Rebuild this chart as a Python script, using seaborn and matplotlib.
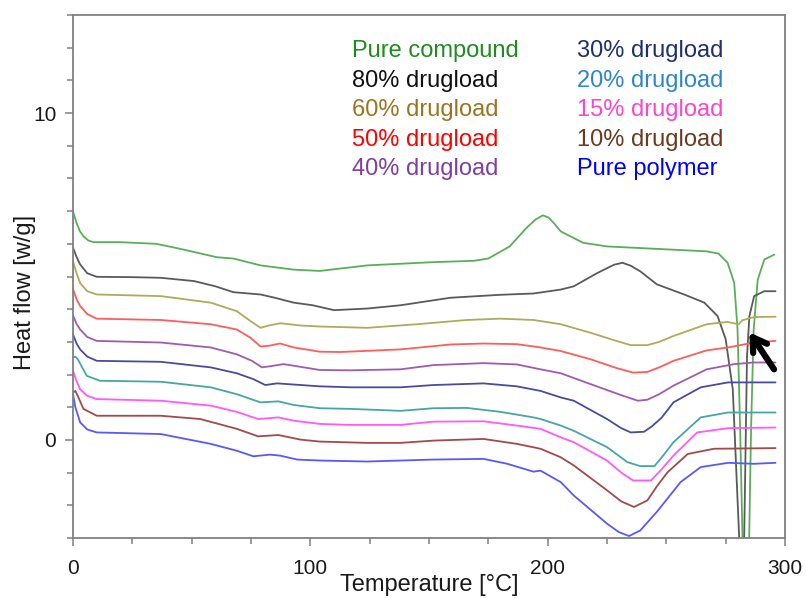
import numpy as np
import pandas as pd
import matplotlib
matplotlib.use("Agg")
import matplotlib.pyplot as plt
from matplotlib.ticker import MultipleLocator
import seaborn as sns

# DSC thermograms: temperature [°C] and heat flow [W/g] for each sample
labels = ["Pure compound", "80% drugload", "60% drugload", "50% drugload", "40% drugload",
          "30% drugload", "20% drugload", "15% drugload", "10% drugload", "Pure polymer"]

t_pure = [0, 1.5, 2.8, 4.4, 6.5, 8.6, 20, 35, 43.7, 60.6, 67.6, 79, 93, 104, 124, 152, 169, 175,
          184, 191, 195, 198, 200.5, 203, 205.5, 215, 225, 239, 267, 272, 275.8, 278.6, 280,
          281.1, 282.1, 283.5, 284.9, 285.7, 286.8, 288.5, 291.3, 295.5]
h_pure = [6.99, 6.64, 6.4, 6.23, 6.1, 6.05, 6.05, 6.0, 5.87, 5.59, 5.55, 5.34, 5.21, 5.17, 5.34,
          5.44, 5.48, 5.55, 5.92, 6.48, 6.75, 6.87, 6.80, 6.6, 6.38, 6.03, 5.92, 5.87, 5.77, 5.70,
          5.42, 4.81, 3.38, 0.33, -3.0, -8.0, -3.0, 0.33, 3.38, 4.9, 5.52, 5.67]

t_80 = [0, 1.5, 3, 6, 10, 25, 37, 51, 60, 67.6, 79, 85, 93, 101, 110, 124, 138, 159, 180, 194,
        205.5, 211, 221, 228, 231.5, 235, 239, 246, 257.5, 266, 271.6, 275, 278, 280.7, 281.8,
        282.8, 284, 285, 287, 291.3, 296]
h_80 = [5.88, 5.6, 5.37, 5.1, 4.99, 4.98, 4.96, 4.86, 4.7, 4.52, 4.45, 4.35, 4.2, 4.12, 3.97, 4.02,
        4.12, 4.35, 4.44, 4.48, 4.6, 4.7, 5.11, 5.36, 5.42, 5.33, 5.16, 4.76, 4.45, 4.2, 3.79, 3.08,
        1.55, -3.0, -6.0, -3.0, 2.57, 3.79, 4.4, 4.55, 4.55]

t_60 = [0, 1.5, 3, 6, 10, 37, 58, 69, 74.7, 79, 82.4, 87.3, 96, 104, 124, 145, 166, 180, 194,
        205.5, 218, 228, 235, 242, 247, 253, 267, 275.8, 279, 280.5, 282, 287, 296]
h_60 = [5.47, 5.1, 4.8, 4.55, 4.45, 4.4, 4.2, 3.94, 3.64, 3.43, 3.5, 3.57, 3.5, 3.47, 3.43, 3.54,
        3.67, 3.71, 3.67, 3.54, 3.28, 3.05, 2.9, 2.9, 3.0, 3.18, 3.54, 3.61, 3.56, 3.54, 3.66, 3.76,
        3.77]

t_50 = [0, 1.5, 3, 6, 10, 37, 58, 69, 74.7, 79, 82.4, 87.3, 93, 104, 112.7, 138, 159, 173, 187,
        197, 205.5, 218, 229, 236, 242, 247, 253, 267, 276, 287, 296]
h_50 = [4.62, 4.3, 4.1, 3.85, 3.71, 3.67, 3.54, 3.38, 3.13, 2.86, 2.88, 2.95, 2.83, 2.7, 2.69, 2.77,
        2.92, 2.95, 2.93, 2.83, 2.72, 2.47, 2.2, 2.06, 2.08, 2.22, 2.42, 2.74, 2.83, 2.98, 3.03]

t_40 = [0, 1.5, 3, 6, 10, 37, 58, 69, 75.4, 79.6, 84.5, 88.7, 104, 117, 138, 152, 173, 187, 197,
        205.5, 218, 231, 238, 242, 247, 253, 267, 278.6, 287, 296]
h_40 = [3.81, 3.55, 3.38, 3.15, 3.03, 2.98, 2.83, 2.62, 2.42, 2.22, 2.27, 2.32, 2.14, 2.13, 2.16,
        2.29, 2.35, 2.31, 2.16, 2.04, 1.71, 1.37, 1.2, 1.23, 1.4, 1.66, 2.16, 2.32, 2.37, 2.37]

t_30 = [0, 1.5, 3, 6, 10, 37, 58, 69, 76, 81, 86, 104, 117, 138, 152, 173, 187, 197, 205.5, 211,
        225, 231, 235, 240.6, 244, 248, 253, 264.5, 276, 296]
h_30 = [3.23, 2.95, 2.77, 2.55, 2.42, 2.39, 2.22, 2.04, 1.86, 1.68, 1.73, 1.64, 1.61, 1.61, 1.68,
        1.73, 1.64, 1.5, 1.3, 1.2, 0.64, 0.36, 0.23, 0.25, 0.42, 0.68, 1.15, 1.61, 1.76, 1.76]

t_20 = [0, 1, 2, 5.8, 11.4, 37, 58, 69, 79, 86.6, 93, 104, 117, 138, 152, 166, 180, 194, 197,
        205.5, 211, 225, 233.6, 239, 245, 249, 253, 264.5, 276, 296]
h_20 = [2.52, 2.55, 2.47, 1.96, 1.81, 1.78, 1.61, 1.4, 1.15, 1.18, 1.07, 0.97, 0.95, 0.89, 0.97,
        0.98, 0.86, 0.69, 0.64, 0.44, 0.28, -0.22, -0.68, -0.8, -0.8, -0.45, -0.07, 0.69, 0.84,
        0.84]

t_15 = [0, 1.5, 3, 6, 10, 37, 58, 69, 78, 86.6, 93, 104, 117, 138, 152, 173, 187, 197, 205.5, 211,
        225, 231, 236, 243.5, 248, 253, 263, 276, 296]
h_15 = [2.11, 1.8, 1.55, 1.35, 1.25, 1.2, 1.05, 0.86, 0.64, 0.69, 0.59, 0.49, 0.46, 0.46, 0.56,
        0.57, 0.44, 0.34, 0.08, -0.07, -0.63, -1.0, -1.24, -1.24, -0.9, -0.48, 0.23, 0.36, 0.38]

t_10 = [0, 1, 2, 4.4, 10, 37, 53.6, 69, 78, 86.6, 95.8, 104, 124, 138, 152, 173, 187, 197, 205.5,
        211, 225, 231, 236.4, 242, 246, 250.5, 259, 270, 296]
h_10 = [1.45, 1.5, 1.35, 0.95, 0.74, 0.74, 0.64, 0.34, 0.11, 0.15, 0.01, -0.05, -0.09, -0.09, -0.02,
        0.03, -0.12, -0.27, -0.53, -0.78, -1.54, -1.88, -2.05, -1.85, -1.42, -0.99, -0.43, -0.27,
        -0.25]

t_poly = [0, 1, 3, 6, 10, 37, 58, 69, 76, 83, 87.3, 94.4, 104, 124, 138, 152, 173, 183, 194, 197,
          205.5, 211, 225, 230, 234.3, 239, 246, 256, 264.5, 276, 287, 296]
h_poly = [1.4, 1.0, 0.54, 0.32, 0.23, 0.18, -0.12, -0.33, -0.5, -0.45, -0.48, -0.6, -0.63, -0.66,
          -0.63, -0.6, -0.58, -0.73, -0.97, -0.94, -1.29, -1.7, -2.56, -2.82, -2.94, -2.77, -2.2,
          -1.29, -0.83, -0.7, -0.73, -0.7]

temps = [t_pure, t_80, t_60, t_50, t_40, t_30, t_20, t_15, t_10, t_poly]
flows = [h_pure, h_80, h_60, h_50, h_40, h_30, h_20, h_15, h_10, h_poly]

line_colors = ["#5aae5a", "#5a5a5a", "#acac5a", "#ff5c5c", "#a05ab2",
               "#4a4aa2", "#46a6a6", "#ff58ff", "#a24a4a", "#5858ff"]
text_colors = ["#1e8c1e", "#111111", "#9c7420", "#ff0000", "#7f3f9f",
               "#1f2f6f", "#2e86c8", "#ff44cc", "#6b3a1f", "#0000ff"]

frames = [pd.DataFrame({"T": t, "H": h, "sample": name})
          for t, h, name in zip(temps, flows, labels)]
df = pd.concat(frames, ignore_index=True)

sns.set_theme(style="white")
plt.rcParams["font.family"] = ["Liberation Sans", "DejaVu Sans"]

fig = plt.figure(figsize=(8.06, 5.98), dpi=100)
ax = fig.add_axes([73 / 806, 60 / 598, 712 / 806, 523 / 598])

sns.lineplot(data=df, x="T", y="H", hue="sample", hue_order=labels,
             palette=dict(zip(labels, line_colors)), estimator=None, sort=True,
             linewidth=1.3, legend=False, ax=ax)

ax.set_xlim(0, 300)
ax.set_ylim(-3, 13)
ax.set_xticks([0, 100, 200, 300])
ax.xaxis.set_minor_locator(MultipleLocator(25))
ax.set_yticks([0, 10])
ax.yaxis.set_minor_locator(MultipleLocator(1))
ax.tick_params(which="both", direction="out", color="#808080", width=1.1,
               labelsize=15, labelcolor="#1a1a1a", bottom=True, left=True)
ax.tick_params(which="major", length=6)
ax.tick_params(axis="x", which="major", pad=9)
ax.tick_params(axis="y", which="major", pad=6)
ax.tick_params(which="minor", length=4)
for sp in ax.spines.values():
    sp.set_color("#808080")
    sp.set_linewidth(1.3)

ax.set_xlabel("Temperature [°C]", fontsize=17, color="#1a1a1a", labelpad=0)
ax.xaxis.set_label_coords(0.5, -0.068)
ax.set_ylabel("Heat flow [w/g]", fontsize=17, color="#1a1a1a")
ax.yaxis.set_label_coords(-0.052, 0.47)

# two-column coloured sample key
col_x = [0.392, 0.708]
for i, (name, c) in enumerate(zip(labels, text_colors)):
    col, row = divmod(i, 5)
    ax.text(col_x[col], 0.919 - row * 0.0562, name, color=c, fontsize=17,
            transform=ax.transAxes, ha="left", va="baseline")

# arrow marking the small melting event of the 60% sample
ax.annotate("", xy=(285, 3.29), xytext=(295.4, 2.16),
            arrowprops=dict(arrowstyle="->,head_length=0.8,head_width=0.5",
                            lw=4.5, color="black", shrinkA=0, shrinkB=0),
            annotation_clip=False)

fig.savefig("out.png", dpi=100)
